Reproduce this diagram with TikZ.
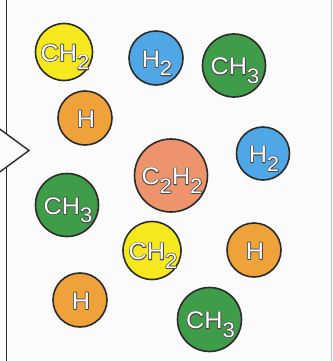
\documentclass[tikz,border=0pt]{standalone}
\usepackage{fontspec}
\setmainfont{Liberation Sans}
\definecolor{bgc}{HTML}{FBFBFB}
\definecolor{linec}{HTML}{2B2B2B}
\definecolor{molyellow}{HTML}{F6E81E}
\definecolor{molblue}{HTML}{4FA7E6}
\definecolor{molgreen}{HTML}{3F9C48}
\definecolor{molorange}{HTML}{F0A23A}
\definecolor{molsalmon}{HTML}{EE946C}
\newcommand\molsub[1]{\raisebox{-8.5pt}{\fontsize{21}{21}\selectfont #1}}
\newcommand\molfont{\fontsize{24}{24}\selectfont}
\newcommand\outlined[1]{{\color{white}\rlap{\special{pdf:literal direct 0.28 0.28 0.28 RG 1 Tr 1.5 w 1 j}#1\special{pdf:literal direct 0 Tr}}#1}}
\tikzset{
  mol/.style={circle, draw=linec, line width=1.6pt, inner sep=0pt, minimum size=#1},
  moltxt/.style={anchor=base, inner sep=0pt, font=\molfont},
}
% #1 circle node name, #2 text
\newcommand\moltext[2]{%
  \node[moltxt] (#1t) at ([shift={(1,9)}]#1.center) {\scalebox{1.05}[1]{\outlined{#2}}};
}
\begin{document}
\begin{tikzpicture}[x=1pt,y=-1pt]
  \fill[bgc] (0,0) rectangle (332,361);
  \useasboundingbox (0,0) rectangle (332,361);
  % frame
  \draw[linec, line width=1.8pt] (6.5,0) -- (6.5,361);
  \draw[black!25, line width=1pt] (331,0) -- (331,361);
  % arrow notch
  \coordinate (a1) at (-1,128.5);
  \coordinate (a2) at (29,150.5);
  \coordinate (a3) at (-1,172.5);
  \fill[bgc] (a1) -- (a2) -- (a3) -- cycle;
  \draw[linec, line width=1.4pt, line join=miter] (a1) -- (a2) -- (a3);
  % molecules
  \node[mol=57pt, fill=molyellow] (m1) at (64,52) {};
  \node[mol=54pt, fill=molblue] (m2) at (156,58) {};
  \node[mol=63pt, fill=molgreen] (m3) at (234,65.5) {};
  \node[mol=54pt, fill=molorange] (m4) at (85,118) {};
  \node[mol=53pt, fill=molblue] (m5) at (263,153.5) {};
  \node[mol=73pt, fill=molsalmon] (m6) at (171,175.5) {};
  \node[mol=63pt, fill=molgreen] (m7) at (67,205) {};
  \node[mol=58pt, fill=molyellow] (m8) at (152,250.5) {};
  \node[mol=54pt, fill=molorange] (m9) at (254,250) {};
  \node[mol=54pt, fill=molorange] (m10) at (80,300) {};
  \node[mol=64pt, fill=molgreen] (m11) at (209.5,319.5) {};
  \moltext{m1}{CH\molsub{2}}
  \moltext{m2}{H\molsub{2}}
  \moltext{m3}{CH\molsub{3}}
  \moltext{m4}{H}
  \moltext{m5}{H\molsub{2}}
  \moltext{m6}{C\molsub{2}H\molsub{2}}
  \moltext{m7}{CH\molsub{3}}
  \moltext{m8}{CH\molsub{2}}
  \moltext{m9}{H}
  \moltext{m10}{H}
  \moltext{m11}{CH\molsub{3}}
\end{tikzpicture}
\end{document}
